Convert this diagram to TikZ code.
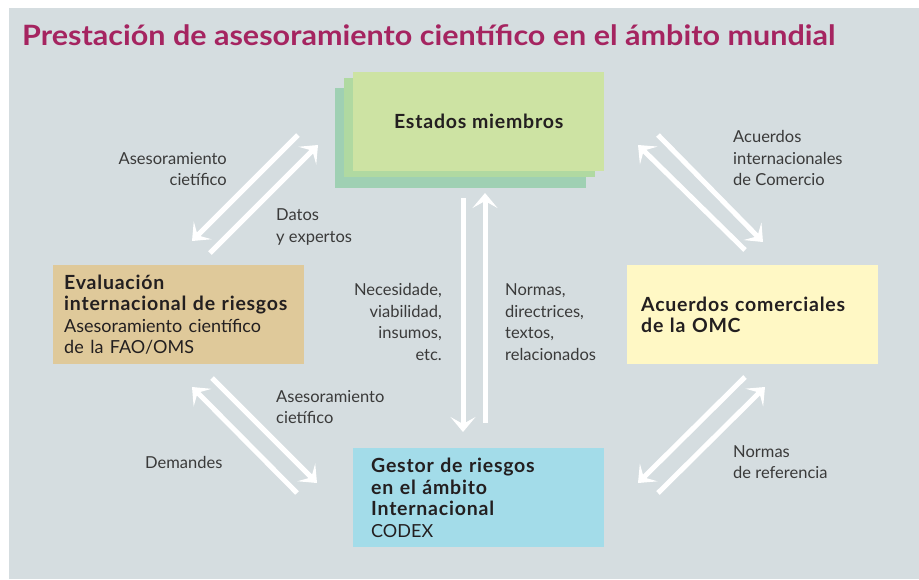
\documentclass[tikz,border=0pt]{standalone}
\usepackage{fontspec}
\setmainfont{Lato}
\usetikzlibrary{arrows.meta}
\definecolor{fondo}{HTML}{D5DDE0}
\definecolor{titulo}{HTML}{A52460}
\definecolor{texto}{HTML}{231F20}
\definecolor{gris}{HTML}{3A3A3A}
\definecolor{verdeA}{HTML}{CDE3A3}
\definecolor{verdeB}{HTML}{B0D9A1}
\definecolor{verdeC}{HTML}{9FD0B3}
\definecolor{ocre}{HTML}{DFC99A}
\definecolor{celeste}{HTML}{A3DCE9}
\definecolor{crema}{HTML}{FFF8C5}
\newcommand{\negrita}{\bfseries\fontsize{19.5}{21.5}\selectfont\addfontfeatures{LetterSpace=4}}
\newcommand{\normal}{\mdseries\fontsize{18}{21.5}\selectfont\addfontfeatures{LetterSpace=0}}

\begin{document}
\begin{tikzpicture}[x=1pt,y=-1pt]
    \tikzstyle{caja}=[rectangle, anchor=north west, minimum width=251pt, minimum height=99pt, align=left, text=texto, font=\negrita]
    \tikzstyle{etiqueta}=[inner sep=0pt, text=gris, font=\fontsize{16.5}{21.5}\selectfont]
    \tikzstyle{flecha}=[white, line width=5pt, -{Stealth[length=15pt,width=25pt,inset=7pt]}]
    \useasboundingbox (0,0) rectangle (919,579);
    \fill[fondo] (9,8) rectangle (919,579);
    \node[anchor=west, inner sep=0pt, xscale=1.09, text=titulo, font=\bfseries\fontsize{28}{32}\selectfont] (titulo) at (22,35)
      {Prestación de asesoramiento científico en el ámbito mundial};

    % pila de Estados miembros
    \fill[verdeC] (335,88) rectangle (586,188);
    \fill[verdeB] (344,78) rectangle (595,177);
    \node[caja, fill=verdeA, align=center] (estados) at (353,72) {Estados miembros};

    \node[caja, fill=ocre, inner xsep=11pt, text width=229pt] (evaluacion) at (53,265)
      {Evaluación\\internacional de riesgos\\{\normal Asesoramiento científico}\\{\normal de la FAO/OMS}};
    \node[caja, fill=crema, inner xsep=14pt, text width=223pt] (omc) at (627,265)
      {Acuerdos comerciales\\de la OMC};
    \node[caja, fill=celeste, inner xsep=18pt, text width=215pt] (gestor) at (353,448)
      {Gestor de riesgos\\en el ámbito\\Internacional\\{\normal CODEX}};

    % extremos de las flechas
    \coordinate (ev1) at (298,135);  \coordinate (ev2) at (192,241);
    \coordinate (ev3) at (210,253);  \coordinate (ev4) at (318,145);
    \coordinate (om1) at (658,135);  \coordinate (om2) at (763,242);
    \coordinate (om3) at (745,250);  \coordinate (om4) at (638,145);
    \coordinate (ge1) at (212,378);  \coordinate (ge2) at (317,483);
    \coordinate (ge3) at (297,493);  \coordinate (ge4) at (192,387);
    \coordinate (co1) at (745,377);  \coordinate (co2) at (638,483);
    \coordinate (co3) at (658,493);  \coordinate (co4) at (765,387);
    \coordinate (ve1) at (463,198);  \coordinate (ve2) at (463,432);
    \coordinate (ve3) at (485,423);  \coordinate (ve4) at (485,193);

    \draw[flecha] (ev1) -- (ev2);
    \draw[flecha] (ev3) -- (ev4);
    \draw[flecha] (om1) -- (om2);
    \draw[flecha] (om3) -- (om4);
    \draw[flecha] (ge1) -- (ge2);
    \draw[flecha] (ge3) -- (ge4);
    \draw[flecha] (co1) -- (co2);
    \draw[flecha] (co3) -- (co4);
    \draw[flecha] (ve1) -- (ve2);
    \draw[flecha] (ve3) -- (ve4);

    % textos de las flechas
    \node[etiqueta, anchor=east, align=right] (asesor1) at (227,169) {Asesoramiento\\cietífico};
    \node[etiqueta, anchor=west, align=left] (datos) at (276,227) {Datos\\y expertos};
    \node[etiqueta, anchor=east, align=right] (necesidad) at (442,322) {Necesidade,\\viabilidad,\\insumos,\\etc.};
    \node[etiqueta, anchor=west, align=left] (normas1) at (505,322) {Normas,\\directrices,\\textos,\\relacionados};
    \node[etiqueta, anchor=west, align=left] (acuerdos) at (733,158) {Acuerdos\\internacionales\\de Comercio};
    \node[etiqueta, anchor=west, align=left] (asesor2) at (276,407) {Asesoramiento\\cietífico};
    \node[etiqueta, anchor=west, align=left] (demandes) at (145,462) {Demandes};
    \node[etiqueta, anchor=west, align=left] (normas2) at (733,462) {Normas\\de referencia};
\end{tikzpicture}
\end{document}
